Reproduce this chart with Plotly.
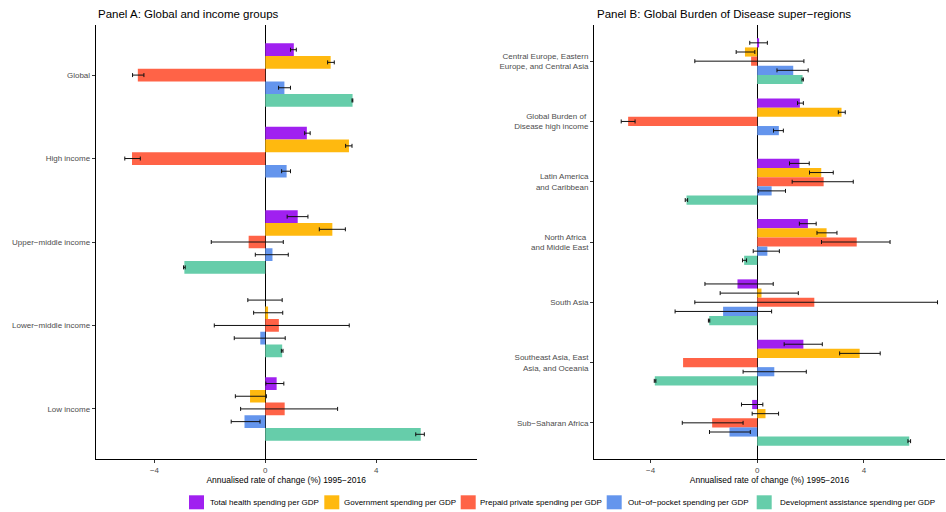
import plotly.graph_objects as go

# ---------------- data ----------------
series_names = [
    "Total health spending per GDP",
    "Government spending per GDP",
    "Prepaid private spending per GDP",
    "Out−of−pocket spending per GDP",
    "Development assistance spending per GDP",
]
series_colors = ["#A020F0", "#FFB90F", "#FF6347", "#6495ED", "#66CDAA"]

cats_a = ["Global", "High income", "Upper−middle income", "Lower−middle income", "Low income"]
cats_b = [
    "Central Europe, Eastern<br>Europe, and Central Asia",
    "Global Burden of <br>Disease high income",
    "Latin America<br>and Caribbean",
    "North Africa <br>and Middle East",
    "South Asia",
    "Southeast Asia, East<br>Asia, and Oceania",
    "Sub−Saharan Africa",
]

# Panel A values (per series), lower and upper bounds
a_total = [1.03, 1.50, 1.17, 0.00, 0.41]
a_total_lo = [0.91, 1.42, 0.79, -0.63, 0.02]
a_total_hi = [1.12, 1.62, 1.54, 0.61, 0.67]

a_gov = [2.36, 3.02, 2.42, 0.10, -0.55]
a_gov_lo = [2.25, 2.90, 1.95, -0.42, -1.08]
a_gov_hi = [2.49, 3.13, 2.89, 0.63, 0.04]

a_pre = [-4.60, -4.81, -0.60, 0.49, 0.70]
a_pre_lo = [-4.79, -5.07, -1.95, -1.84, -0.89]
a_pre_hi = [-4.38, -4.51, 0.65, 3.03, 2.61]

a_oop = [0.69, 0.77, 0.26, -0.18, -0.75]
a_oop_lo = [0.48, 0.59, -0.36, -1.12, -1.23]
a_oop_hi = [0.91, 0.91, 0.83, 0.72, -0.19]

a_dah = [3.15, None, -2.92, 0.61, 5.61]
a_dah_lo = [3.13, None, -2.95, 0.58, 5.43]
a_dah_hi = [3.16, None, -2.89, 0.64, 5.74]

# Panel B values
b_total = [0.07, 1.60, 1.58, 1.90, -0.74, 1.73, -0.19]
b_total_lo = [-0.28, 1.51, 1.21, 1.58, -1.96, 1.01, -0.59]
b_total_hi = [0.38, 1.73, 1.95, 2.21, 0.60, 2.44, 0.21]

b_gov = [-0.46, 3.16, 2.40, 2.60, 0.16, 3.84, 0.31]
b_gov_lo = [-0.79, 3.04, 1.96, 2.24, -1.39, 3.09, -0.19]
b_gov_hi = [-0.09, 3.30, 2.85, 2.99, 1.54, 4.61, 0.80]

b_pre = [-0.23, -4.84, 2.49, 3.73, 2.14, -2.78, -1.69]
b_pre_lo = [-2.34, -5.10, 1.31, 2.41, -2.34, None, -2.81]
b_pre_hi = [1.75, -4.58, 3.60, 4.98, 6.76, None, -0.53]

b_oop = [1.35, 0.81, 0.54, 0.38, -1.28, 0.64, -1.04]
b_oop_lo = [0.74, 0.61, 0.04, -0.15, -3.08, -0.53, -1.79]
b_oop_hi = [1.91, 0.98, 1.06, 0.83, 0.54, 1.84, -0.26]

b_dah = [1.70, None, -2.65, -0.49, -1.80, -3.84, 5.70]
b_dah_lo = [1.68, None, -2.70, -0.55, -1.83, -3.86, 5.65]
b_dah_hi = [1.73, None, -2.61, -0.40, -1.78, -3.80, 5.75]

x_ticks = [-4, 0, 4]
x_title = "Annualised rate of change (%) 1995−2016"
title_a = "Panel A: Global and income groups"
title_b = "Panel B: Global Burden of Disease super−regions"

panel_a = [(a_total, a_total_lo, a_total_hi), (a_gov, a_gov_lo, a_gov_hi),
           (a_pre, a_pre_lo, a_pre_hi), (a_oop, a_oop_lo, a_oop_hi),
           (a_dah, a_dah_lo, a_dah_hi)]
panel_b = [(b_total, b_total_lo, b_total_hi), (b_gov, b_gov_lo, b_gov_hi),
           (b_pre, b_pre_lo, b_pre_hi), (b_oop, b_oop_lo, b_oop_hi),
           (b_dah, b_dah_lo, b_dah_hi)]

# ---------------- figure ----------------
W, H = 946, 512
fig = go.Figure()


def err_arrays(v, lo, hi):
    # "NaN" (non-numeric in JS) makes plotly skip the error bar for that bar
    plus, minus = [], []
    for a, l, h in zip(v, lo, hi):
        if a is None or l is None or h is None:
            plus.append("NaN")
            minus.append("NaN")
        else:
            plus.append(h - a)
            minus.append(a - l)
    return plus, minus


for cats, panel, xa, ya in [(cats_a, panel_a, "x", "y"), (cats_b, panel_b, "x2", "y2")]:
    for name, color, (v, lo, hi) in zip(series_names, series_colors, panel):
        plus, minus = err_arrays(v, lo, hi)
        fig.add_trace(go.Bar(
            y=cats, x=v, orientation="h", name=name,
            marker=dict(color=color, line=dict(width=0)),
            error_x=dict(type="data", symmetric=False, array=plus, arrayminus=minus,
                         color="#111111", thickness=1, width=2),
            xaxis=xa, yaxis=ya, showlegend=False,
        ))

font_family = "Liberation Sans, Arial, sans-serif"
tick_font = dict(family=font_family, size=8, color="#4D4D4D")

common_x = dict(showgrid=False, zeroline=True, zerolinecolor="black", zerolinewidth=1,
                showline=True, linecolor="black", linewidth=1, ticks="outside",
                ticklen=3, tickcolor="#333333", tickvals=x_ticks, tickfont=tick_font,
                title=dict(text=x_title, font=dict(family=font_family, size=8.5, color="black"),
                           standoff=2))
common_y = dict(showgrid=False, showline=True, linecolor="black", linewidth=1,
                ticks="outside", ticklen=3, tickcolor="#333333", tickfont=tick_font,
                categoryorder="array")

y_dom = [1 - 459 / H, 1 - 25 / H]

fig.update_layout(
    width=W, height=H,
    margin=dict(l=0, r=0, t=0, b=0),
    paper_bgcolor="white", plot_bgcolor="white",
    barmode="group", bargap=0.24, bargroupgap=0,
    font=dict(family=font_family),
    xaxis=dict(common_x, domain=[95.7 / W, 476.7 / W], range=[-6.12, 7.63], anchor="y"),
    yaxis=dict(common_y, domain=y_dom, categoryarray=cats_a,
               range=[len(cats_a) - 1 + 0.6, -0.6], anchor="x"),
    xaxis2=dict(common_x, domain=[594 / W, 945 / W], range=[-6.12, 7.04], anchor="y2"),
    yaxis2=dict(common_y, domain=y_dom, categoryarray=cats_b,
                range=[len(cats_b) - 1 + 0.6, -0.6], anchor="x2"),
)

# panel titles
for txt, xp in [(title_a, 95.7), (title_b, 594.5)]:
    fig.add_annotation(text=txt, x=xp / W, y=1 - 13.5 / H, xref="paper", yref="paper",
                       xanchor="left", yanchor="middle", showarrow=False,
                       font=dict(family=font_family, size=11.5, color="black"))

# legend (keys + labels)
key_x = [189, 324.3, 460.7, 606.7, 756.7]
text_x = [208, 342, 478.3, 625.7, 778.3]
for name, color, kx, tx in zip(series_names, series_colors, key_x, text_x):
    fig.add_shape(type="rect", xref="paper", yref="paper",
                  x0=kx / W, x1=(kx + 15) / W, y0=1 - 509.3 / H, y1=1 - 495.3 / H,
                  fillcolor=color, line=dict(width=0))
    fig.add_annotation(text=name, x=tx / W, y=1 - 502.3 / H, xref="paper", yref="paper",
                       xanchor="left", yanchor="middle", showarrow=False,
                       font=dict(family=font_family, size=8, color="black"))

fig.write_html("out.html", config={"displayModeBar": False},
               post_script="document.body.style.margin='0px';")
